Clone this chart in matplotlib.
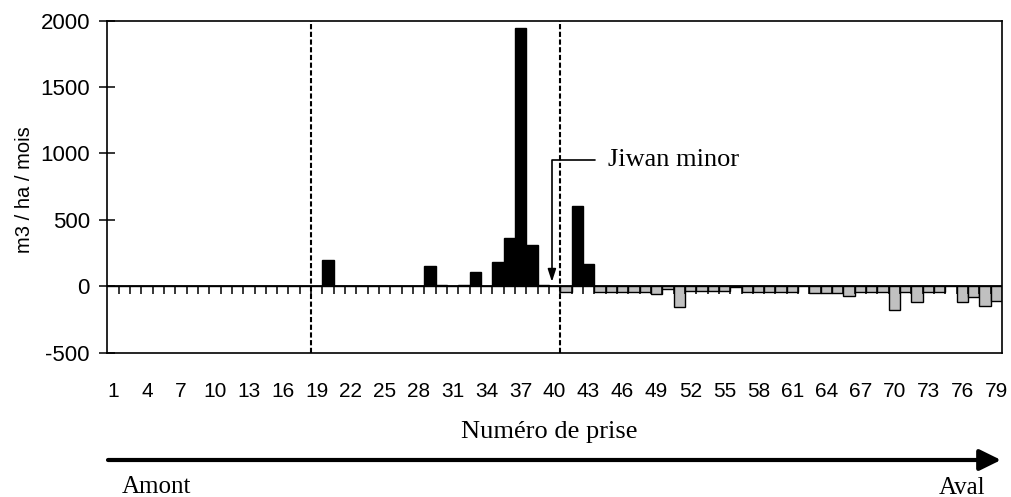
import numpy as np
import matplotlib
matplotlib.use("Agg")
import matplotlib.pyplot as plt

plt.rcParams.update({
    "font.family": "Liberation Sans",
    "font.size": 14,
    "axes.unicode_minus": False,
})
SERIF = "Liberation Serif"

# Numéro de prise 1..79, volume en m3 / ha / mois
prises = np.arange(1, 80)
volumes = [
    0, 0, 0, 0, 0, 0, 0, 0, 0, 0,            # 1-10
    0, 0, 0, 0, 0, 0, 0, 0, 0, 195,          # 11-20
    0, 0, 0, 0, 0, 0, 0, 0, 155, 8,          # 21-30
    0, 8, 108, 0, 183, 366, 1940, 308, 10, 0,  # 31-40
    -45, 604, 170, -45, -45, -45, -45, -45, -60, -20,  # 41-50
    -155, -40, -40, -40, -35, -10, -45, -45, -45, -45,  # 51-60
    -45, 0, -55, -55, -55, -75, -45, -45, -45, -180,    # 61-70
    -45, -120, -45, -45, 0, -120, -85, -150, -110,      # 71-79
]
tick_labels = [str(n) for n in range(1, 80, 3)]
limites = [18.5, 40.5]          # traits verticaux en pointillés
jiwan_prise = 39.76

volumes = np.array(volumes)
colors = np.where(volumes >= 0, "black", "#c0c0c0")

fig = plt.figure(figsize=(10.11, 4.97), dpi=100)
ax = fig.add_axes([0.1061, 0.2907, 0.8850, 0.6680])

ax.bar(prises, volumes, width=1.0, color=colors, edgecolor="black",
       linewidth=1.0, zorder=2)

# axe des x à zéro avec graduations entre les prises
ax.axhline(0, color="black", linewidth=1.3, zorder=4)
bounds = np.arange(1, 79) + 0.5
ax.plot(bounds, np.zeros_like(bounds), linestyle="none", marker=3,
        markersize=5.5, markeredgewidth=1.1, color="black", zorder=4)

for xv in limites:
    ax.axvline(xv, color="black", linewidth=1.5, linestyle=(0, (2.5, 1.2)),
               zorder=5)

ax.set_xlim(0.5, 79.5)
ax.set_ylim(-500, 2000)
ax.set_xticks(range(1, 80, 3))
ax.set_xticklabels(tick_labels)
ax.set_yticks(range(-500, 2001, 500))
ax.tick_params(axis="x", length=0, pad=21, labelsize=15)
ax.tick_params(axis="y", direction="inout", length=11, width=1.1,
               pad=7, labelsize=16)
for sp in ax.spines.values():
    sp.set_linewidth(1.2)

ax.annotate("Jiwan minor", xy=(jiwan_prise, 32), xytext=(44.7, 951),
            fontsize=19, family=SERIF, va="center", ha="left",
            arrowprops=dict(arrowstyle="-|>,head_length=0.4,head_width=0.13",
                            connectionstyle="angle,angleA=0,angleB=90,rad=0",
                            color="black", lw=1.2, shrinkA=7, shrinkB=0))

fig.text(25 / 1011, 1 - 190 / 497, "m3 / ha / mois", rotation=90,
         ha="center", va="center", fontsize=14.5)
fig.text(549 / 1011, 1 - 437.7 / 497, "Numéro de prise", family=SERIF,
         fontsize=19, ha="center", va="baseline")

# flèche amont -> aval
ax.annotate("", xy=(1001 / 1011, 1 - 460 / 497),
            xytext=(108 / 1011, 1 - 460 / 497),
            xycoords="figure fraction", textcoords="figure fraction",
            arrowprops=dict(arrowstyle="-|>,head_length=0.65,head_width=0.32",
                            mutation_scale=20, color="black", lw=3,
                            shrinkA=0, shrinkB=0),
            annotation_clip=False)
fig.text(122 / 1011, 1 - 493 / 497, "Amont", family=SERIF, fontsize=18,
         ha="left", va="baseline")
fig.text(985 / 1011, 1 - 494 / 497, "Aval", family=SERIF,
         fontsize=18, ha="right", va="baseline")

fig.savefig("out.png", dpi=100)
